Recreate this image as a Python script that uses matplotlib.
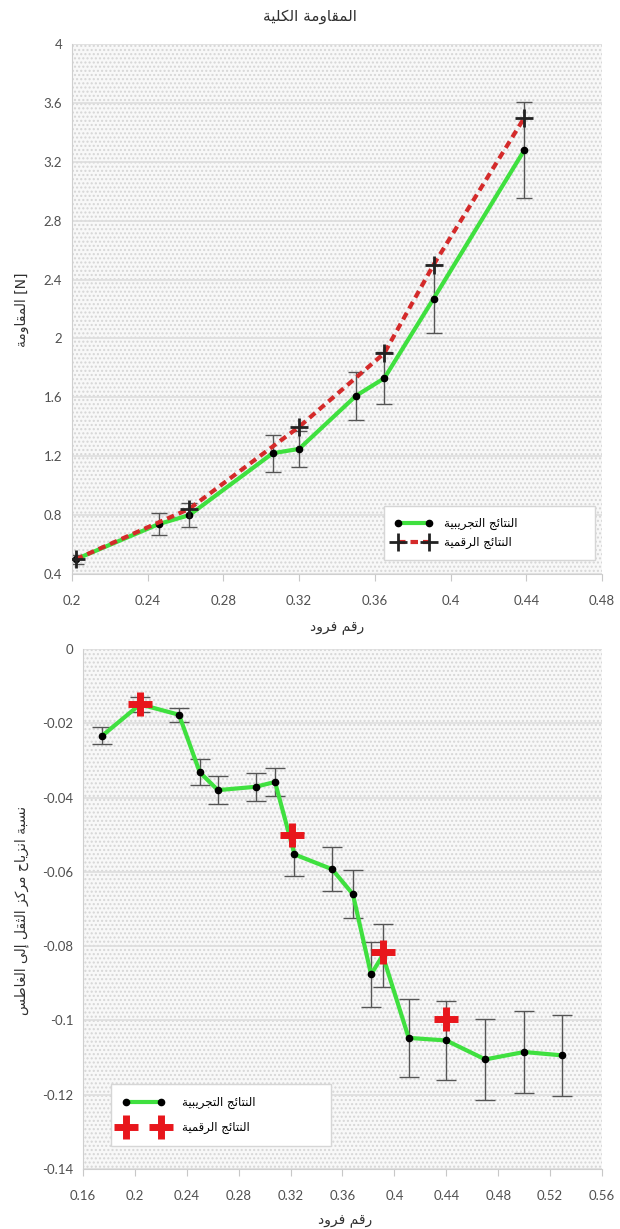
import matplotlib
matplotlib.use("Agg")
import matplotlib.pyplot as plt
from matplotlib.ticker import MultipleLocator, FuncFormatter
from matplotlib.patches import Rectangle

# ---- data ----
# top chart: total resistance vs Froude number
fr_exp_top = [0.202, 0.246, 0.262, 0.306, 0.320, 0.350, 0.365, 0.391, 0.439]
res_exp_top = [0.50, 0.74, 0.80, 1.22, 1.25, 1.61, 1.73, 2.27, 3.28]
res_err_top = [0.03, 0.077, 0.08, 0.127, 0.12, 0.164, 0.176, 0.23, 0.325]
fr_num_top = [0.202, 0.262, 0.320, 0.365, 0.391, 0.439]
res_num_top = [0.50, 0.843, 1.40, 1.90, 2.50, 3.50]

# bottom chart: centre of gravity shift ratio vs Froude number
fr_exp_bot = [0.175, 0.204, 0.234, 0.250, 0.264, 0.293, 0.308, 0.323, 0.352,
              0.368, 0.382, 0.391, 0.411, 0.440, 0.470, 0.500, 0.529]
cg_exp_bot = [-0.0233, -0.0149, -0.0177, -0.0332, -0.0380, -0.0371, -0.0358,
              -0.0553, -0.0593, -0.0660, -0.0876, -0.0825, -0.1047, -0.1054,
              -0.1105, -0.1085, -0.1094]
cg_err_bot = [0.0023, 0.002, 0.0019, 0.0035, 0.0038, 0.0037, 0.0037, 0.0058,
              0.0059, 0.0065, 0.0087, 0.0085, 0.0105, 0.0107, 0.011, 0.0111,
              0.0109]
fr_num_bot = [0.204, 0.321, 0.391, 0.440]
cg_num_bot = [-0.0149, -0.0501, -0.0816, -0.0996]

# ---- minimal arabic shaping (matplotlib has no bidi/shaping) ----
FORMS = {
    'ا': (0xFE8D, 0xFE8E), 'أ': (0xFE83, 0xFE84), 'إ': (0xFE87, 0xFE88),
    'آ': (0xFE81, 0xFE82), 'ة': (0xFE93, 0xFE94), 'د': (0xFEA9, 0xFEAA),
    'ذ': (0xFEAB, 0xFEAC), 'ر': (0xFEAD, 0xFEAE), 'ز': (0xFEAF, 0xFEB0),
    'و': (0xFEED, 0xFEEE), 'ى': (0xFEEF, 0xFEF0),
    'ئ': (0xFE89,), 'ب': (0xFE8F,), 'ت': (0xFE95,), 'ث': (0xFE99,),
    'ج': (0xFE9D,), 'ح': (0xFEA1,), 'خ': (0xFEA5,), 'س': (0xFEB1,),
    'ش': (0xFEB5,), 'ص': (0xFEB9,), 'ض': (0xFEBD,), 'ط': (0xFEC1,),
    'ظ': (0xFEC5,), 'ع': (0xFEC9,), 'غ': (0xFECD,), 'ف': (0xFED1,),
    'ق': (0xFED5,), 'ك': (0xFED9,), 'ل': (0xFEDD,), 'م': (0xFEE1,),
    'ن': (0xFEE5,), 'ه': (0xFEE9,), 'ي': (0xFEF1,),
}
LAM_ALEF = {'ا': (0xFEFB, 0xFEFC), 'أ': (0xFEF7, 0xFEF8),
            'إ': (0xFEF9, 0xFEFA), 'آ': (0xFEF5, 0xFEF6)}


def dual(c):
    return c in FORMS and len(FORMS[c]) == 1


def shape(text):
    chars = list(text)
    out = []
    i = 0
    while i < len(chars):
        c = chars[i]
        prev = chars[i - 1] if i > 0 else ''
        joins_prev = dual(prev)
        if c == 'ل' and i + 1 < len(chars) and chars[i + 1] in LAM_ALEF:
            iso, fin = LAM_ALEF[chars[i + 1]]
            out.append(chr(fin if joins_prev else iso))
            i += 2
            continue
        if c not in FORMS:
            out.append(c)
            i += 1
            continue
        nxt = chars[i + 1] if i + 1 < len(chars) else ''
        joins_next = dual(c) and nxt in FORMS
        base = FORMS[c][0]
        if dual(c):
            form = base + (3 if joins_prev and joins_next else
                           1 if joins_prev else
                           2 if joins_next else 0)
        else:
            form = base + (1 if joins_prev else 0)
        out.append(chr(form))
        i += 1
    return ''.join(reversed(out))


AR = ['DejaVu Sans']
NUM = ['Lato', 'DejaVu Sans']
plt.rcParams['font.family'] = NUM


def fmt(v, pos):
    return '%g' % round(v, 4)


def style_axes(ax):
    ax.set_facecolor('#f8f8f8')
    ax.add_patch(Rectangle((0, 0), 1, 1, transform=ax.transAxes,
                           facecolor='none', edgecolor='#d6d6d6', hatch='....',
                           lw=0, zorder=0))
    ax.grid(axis='y', color='#dedede', lw=1.2, zorder=0.5)
    ax.set_axisbelow(True)
    for s in ['top', 'right']:
        ax.spines[s].set_visible(False)
    for s in ['left', 'bottom']:
        ax.spines[s].set_color('#cfcfcf')
    ax.tick_params(axis='x', colors='#c8c8c8', length=5, pad=10,
                   labelcolor='#505050', labelsize=9.5)
    ax.tick_params(axis='y', length=0, pad=7, labelcolor='#505050',
                   labelsize=9.5)
    ax.xaxis.set_major_formatter(FuncFormatter(fmt))
    ax.yaxis.set_major_formatter(FuncFormatter(fmt))


fig = plt.figure(figsize=(6.2, 12.29), dpi=100)

# ---- top chart ----
ax1 = fig.add_axes([72 / 620, 1 - 574 / 1229, 530 / 620, 530 / 1229])
style_axes(ax1)
ax1.errorbar(fr_exp_top, res_exp_top, yerr=res_err_top, fmt='none',
             ecolor='#555555', elinewidth=1, capsize=6, capthick=1, zorder=2)
ax1.plot(fr_exp_top, res_exp_top, color='#3fe03f', lw=3,
         marker='o', ms=4.5, mfc='black', mec='black', zorder=3,
         label=shape('النتائج التجريبية'))
ax1.plot(fr_num_top, res_num_top, color='#d42a2a', lw=3, ls=(0, (1.8, 1.2)),
         marker='+', ms=13, mew=2, mec='#222222', zorder=4,
         label=shape('النتائج الرقمية'))
ax1.set_xlim(0.2, 0.48)
ax1.set_ylim(0.4, 4.0)
ax1.xaxis.set_major_locator(MultipleLocator(0.04))
ax1.yaxis.set_major_locator(MultipleLocator(0.4))
leg1 = ax1.legend(loc='center', bbox_to_anchor=(0.577, 0.017, 0.421, 0.121),
                  mode='expand', prop={'family': AR, 'size': 8.5},
                  numpoints=2, handlelength=3.2, handletextpad=1.0,
                  fancybox=False, edgecolor='#d6d6d6', framealpha=1,
                  borderpad=0.9)
leg1.get_frame().set_linewidth(1)

fig.text(310 / 620, 1 - 17 / 1229, shape('المقاومة الكلية'), family=AR,
         fontsize=11, color='#303030', ha='center', va='center')
fig.text(337 / 620, 1 - 627 / 1229, shape('رقم فرود'), family=AR,
         fontsize=10, color='#303030', ha='center', va='center')
fig.text(22 / 620, 1 - 310 / 1229, shape('المقاومة') + ' [N]', family=AR,
         fontsize=10, color='#303030', ha='center', va='center', rotation=90)

# ---- bottom chart ----
ax2 = fig.add_axes([83 / 620, 1 - 1169 / 1229, 519 / 620, 520 / 1229])
style_axes(ax2)
ax2.errorbar(fr_exp_bot, cg_exp_bot, yerr=cg_err_bot, fmt='none',
             ecolor='#555555', elinewidth=1, capsize=7, capthick=1, zorder=2)
ax2.plot(fr_exp_bot, cg_exp_bot, color='#3fe03f', lw=3,
         marker='o', ms=4.5, mfc='black', mec='black', zorder=3,
         label=shape('النتائج التجريبية'))
ax2.plot(fr_num_bot, cg_num_bot, ls='none', marker='+', ms=17, mew=5,
         mec='#e8161c', zorder=4, label=shape('النتائج الرقمية'))
ax2.set_xlim(0.16, 0.56)
ax2.set_ylim(-0.14, 0.0)
ax2.xaxis.set_major_locator(MultipleLocator(0.04))
ax2.yaxis.set_major_locator(MultipleLocator(0.02))
leg2 = ax2.legend(loc='center', bbox_to_anchor=(0.042, 0.037, 0.447, 0.134),
                  mode='expand', prop={'family': AR, 'size': 8.5},
                  numpoints=2, handlelength=3.6, handletextpad=1.4,
                  fancybox=False, edgecolor='#d6d6d6', framealpha=1,
                  borderpad=1.0, labelspacing=1.0)
leg2.get_frame().set_linewidth(1)

fig.text(345 / 620, 1 - 1220 / 1229, shape('رقم فرود'), family=AR,
         fontsize=10, color='#303030', ha='center', va='center')
fig.text(22 / 620, 1 - 910 / 1229, shape('نسبة انزياح مركز الثقل إلى الغاطس'),
         family=AR, fontsize=10, color='#303030', ha='center', va='center',
         rotation=90)

fig.savefig('out.png', dpi=100)
